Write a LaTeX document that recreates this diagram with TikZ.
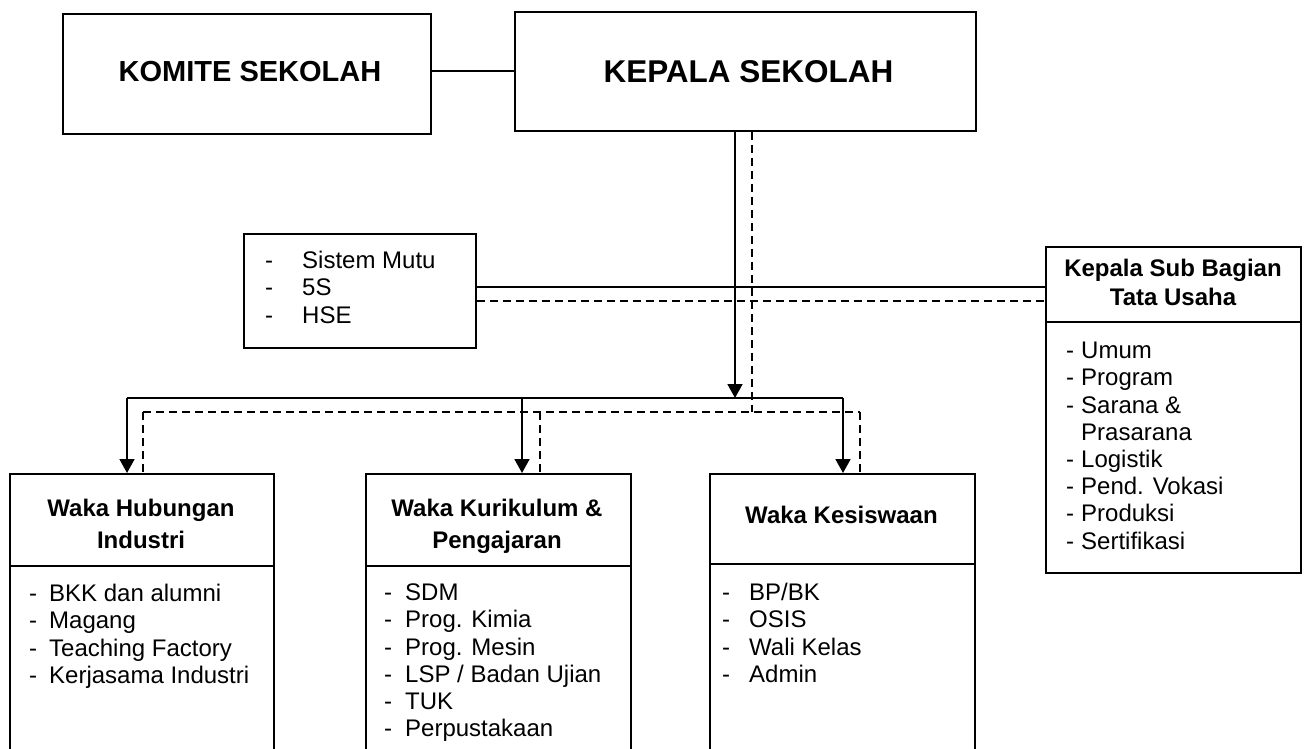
\documentclass[tikz,border=0pt]{standalone}
\usepackage{fontspec}
\setmainfont{Liberation Sans}
\usetikzlibrary{arrows.meta}
\tikzset{
  box/.style={draw, line width=1.8pt, inner sep=0pt, anchor=north west},
  conn/.style={line width=1.8pt},
  dconn/.style={line width=1.6pt, dash pattern=on 8pt off 5pt},
  arr/.style={conn, -{Triangle[width=15pt,length=14pt]}},
  titletext/.style={anchor=base, inner sep=0pt},
  head/.style={font=\fontsize{24}{28}\selectfont\bfseries, anchor=base, inner sep=0pt},
  list/.style={font=\fontsize{24}{27.2}\selectfont, anchor=base west, inner sep=0pt}
}
\begin{document}
\begin{tikzpicture}[x=1pt,y=-1pt]
\useasboundingbox (0,0) rectangle (1307,749);
\fill[white] (0,0) rectangle (1307,749);

% boxes
\node[box, minimum width=368pt, minimum height=120pt] (komite) at (62,13) {};
\node[box, minimum width=461pt, minimum height=119pt] (kepala) at (514,11) {};
\node[box, minimum width=232pt, minimum height=114pt] (mutu) at (243,233) {};
\node[box, minimum width=255pt, minimum height=326pt] (tu) at (1045,246) {};
\node[box, minimum width=264pt, minimum height=290pt] (hub) at (9,473) {};
\node[box, minimum width=265pt, minimum height=290pt] (kur) at (365,473) {};
\node[box, minimum width=265pt, minimum height=290pt] (kes) at (709,473) {};

% dividers
\coordinate (ytu) at (0,322);
\coordinate (yhk) at (0,566);
\coordinate (yks) at (0,564);
\draw[conn] (tu.west |- ytu) -- (tu.east |- ytu);
\draw[conn] (hub.west |- yhk) -- (hub.east |- yhk);
\draw[conn] (kur.west |- yhk) -- (kur.east |- yhk);
\draw[conn] (kes.west |- yks) -- (kes.east |- yks);

% titles
\node[titletext, font=\fontsize{29}{33}\selectfont\bfseries] (tkomite) at (250,81.4) {KOMITE SEKOLAH};
\node[titletext, font=\fontsize{31.5}{36}\selectfont\bfseries] (tkepala) at (748.5,82.3) {KEPALA SEKOLAH};

% headers
\node[head] (htu1) at (1173,276.5) {Kepala Sub Bagian};
\node[head] (htu2) at (1173,305.5) {Tata Usaha};
\node[head] (hhub1) at (141,516.5) {Waka Hubungan};
\node[head] (hhub2) at (141,548.5) {Industri};
\node[head] (hkur1) at (497,516.5) {Waka Kurikulum \&};
\node[head] (hkur2) at (497,548.5) {Pengajaran};
\node[head] (hkes) at (841.5,523.5) {Waka Kesiswaan};

% lists
\node[list] (lmutu) at (265,268.6) {\begin{tabular}[t]{@{}l@{\hspace{29pt}}l@{}}-&Sistem Mutu\\-&5S\\-&HSE\end{tabular}};
\node[list] (ltu) at (1066,358.6) {\begin{tabular}[t]{@{}l@{\hspace{7pt}}l@{}}-&Umum\\-&Program\\-&Sarana \&\\&Prasarana\\-&Logistik\\-&Pend. Vokasi\\-&Produksi\\-&Sertifikasi\end{tabular}};
\node[list] (lhub) at (29,601.6) {\begin{tabular}[t]{@{}l@{\hspace{12pt}}l@{}}-&BKK dan alumni\\-&Magang\\-&Teaching Factory\\-&Kerjasama Industri\end{tabular}};
\node[list] (lkur) at (384,600.6) {\begin{tabular}[t]{@{}l@{\hspace{13pt}}l@{}}-&SDM\\-&Prog. Kimia\\-&Prog. Mesin\\-&LSP / Badan Ujian\\-&TUK\\-&Perpustakaan\end{tabular}};
\node[list] (lkes) at (722,600.6) {\begin{tabular}[t]{@{}l@{\hspace{19pt}}l@{}}-&BP/BK\\-&OSIS\\-&Wali Kelas\\-&Admin\end{tabular}};

% connectors
\draw[conn] (kepala.west) -- (kepala.west -| komite.east);

\coordinate (kbus) at (735,398);
\coordinate (kdash) at (752,412);
\draw[arr] (kepala.south -| kbus) -- (kbus);
\draw[dconn] (kepala.south -| kdash) -- (kdash);

\coordinate (ys) at (0,287);
\coordinate (yd) at (0,301);
\draw[conn] (mutu.east |- ys) -- (tu.west |- ys);
\draw[dconn] (mutu.east |- yd) -- (tu.west |- yd);

\coordinate (bA) at (127,398);
\coordinate (bB) at (522,398);
\coordinate (bC) at (843,398);
\draw[conn] (bA) -- (bC);
\draw[arr] (bA) -- (bA |- hub.north);
\draw[arr] (bB) -- (bB |- kur.north);
\draw[arr] (bC) -- (bC |- kes.north);

\coordinate (dA) at (143,412);
\coordinate (dB) at (540,412);
\coordinate (dC) at (860,412);
\draw[dconn] (dA) -- (dC);
\draw[dconn] (dA) -- (dA |- hub.north);
\draw[dconn] (dB) -- (dB |- kur.north);
\draw[dconn] (dC) -- (dC |- kes.north);
\end{tikzpicture}
\end{document}
